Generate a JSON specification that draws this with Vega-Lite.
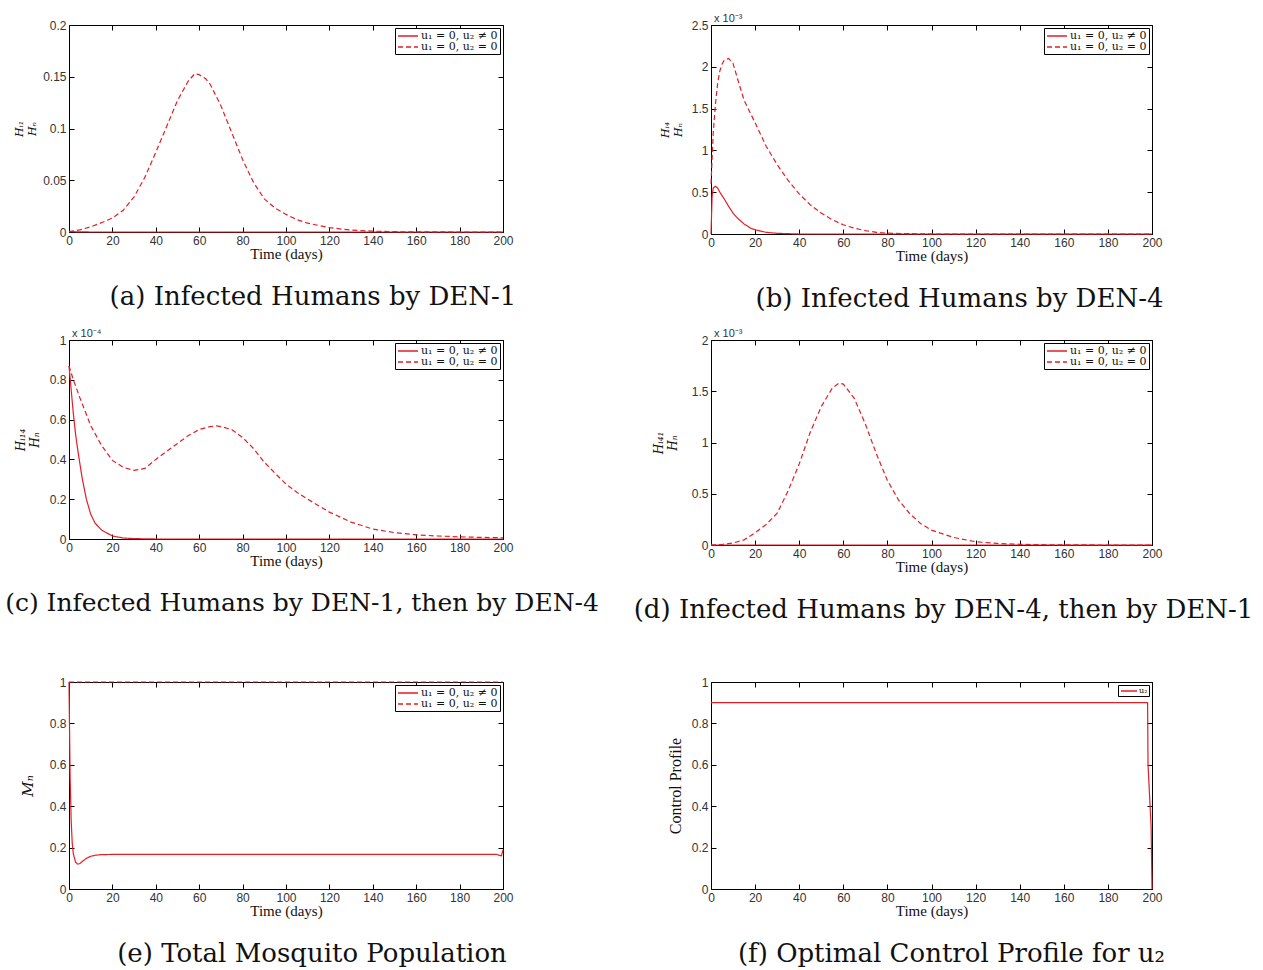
{
  "$schema": "https://vega.github.io/schema/vega-lite/v6.json",
  "background": "white",
  "padding": {"left": 4, "top": 12, "right": 0, "bottom": 0},
  "config": {
    "view": {"stroke": "#000", "strokeWidth": 1},
    "axis": {"domain": false, "grid": false, "ticks": true, "tickSize": -5, "tickColor": "#000", "tickWidth": 1, "labelFont": "Liberation Sans", "labelFontSize": 12, "labelColor": "#333", "labelPadding": 8, "titleFont": "Liberation Serif", "titleFontWeight": "normal", "titleColor": "#111", "titleFontSize": 15},
    "axisX": {"titlePadding": 0},
    "title": {"orient": "bottom", "font": "DejaVu Serif", "fontSize": 26, "fontWeight": "normal", "color": "#111", "anchor": "middle", "frame": "group", "offset": 23},
    "legend": {"orient": "top-right", "offset": 3, "padding": 2, "rowPadding": 0, "strokeColor": "#000", "fillColor": "#fff", "symbolType": "M-2,0H2", "symbolSize": 100, "symbolOffset": 5, "symbolStrokeWidth": 1.3, "symbolStrokeColor": "#e41e26", "symbolFillColor": "transparent", "labelFont": "DejaVu Serif", "labelFontSize": 11, "labelOffset": 7, "labelColor": "#111", "title": null}
  },
  "columns": 2,
  "align": "each",
  "bounds": "flush",
  "spacing": {"row": 0, "column": 208},
  "resolve": {"scale": {"strokeDash": "independent"}, "legend": {"strokeDash": "independent"}},
  "concat": [
    {
      "width": 434, "height": 207,
      "title": {"text": "(a) Infected Humans by DEN-1", "dx": 27},
      "data": {"values": [
        {"t": 0, "v": 0.0005, "s": "u₁ = 0, u₂ ≠ 0"}, {"t": 3, "v": 0.0002, "s": "u₁ = 0, u₂ ≠ 0"}, {"t": 10, "v": 0, "s": "u₁ = 0, u₂ ≠ 0"}, {"t": 60, "v": 0, "s": "u₁ = 0, u₂ ≠ 0"}, {"t": 120, "v": 0, "s": "u₁ = 0, u₂ ≠ 0"}, {"t": 200, "v": 0, "s": "u₁ = 0, u₂ ≠ 0"},
        {"t": 0, "v": 0.0005, "s": "u₁ = 0, u₂ = 0"}, {"t": 5, "v": 0.002, "s": "u₁ = 0, u₂ = 0"}, {"t": 10, "v": 0.005, "s": "u₁ = 0, u₂ = 0"}, {"t": 15, "v": 0.009, "s": "u₁ = 0, u₂ = 0"}, {"t": 20, "v": 0.0135, "s": "u₁ = 0, u₂ = 0"}, {"t": 25, "v": 0.021, "s": "u₁ = 0, u₂ = 0"}, {"t": 30, "v": 0.034, "s": "u₁ = 0, u₂ = 0"}, {"t": 35, "v": 0.053, "s": "u₁ = 0, u₂ = 0"}, {"t": 40, "v": 0.077, "s": "u₁ = 0, u₂ = 0"}, {"t": 45, "v": 0.102, "s": "u₁ = 0, u₂ = 0"}, {"t": 50, "v": 0.127, "s": "u₁ = 0, u₂ = 0"}, {"t": 55, "v": 0.146, "s": "u₁ = 0, u₂ = 0"}, {"t": 58, "v": 0.153, "s": "u₁ = 0, u₂ = 0"}, {"t": 60, "v": 0.152, "s": "u₁ = 0, u₂ = 0"}, {"t": 63, "v": 0.148, "s": "u₁ = 0, u₂ = 0"}, {"t": 65, "v": 0.143, "s": "u₁ = 0, u₂ = 0"}, {"t": 70, "v": 0.122, "s": "u₁ = 0, u₂ = 0"}, {"t": 75, "v": 0.096, "s": "u₁ = 0, u₂ = 0"}, {"t": 80, "v": 0.07, "s": "u₁ = 0, u₂ = 0"}, {"t": 85, "v": 0.048, "s": "u₁ = 0, u₂ = 0"}, {"t": 90, "v": 0.032, "s": "u₁ = 0, u₂ = 0"}, {"t": 95, "v": 0.023, "s": "u₁ = 0, u₂ = 0"}, {"t": 100, "v": 0.017, "s": "u₁ = 0, u₂ = 0"}, {"t": 105, "v": 0.012, "s": "u₁ = 0, u₂ = 0"}, {"t": 110, "v": 0.0085, "s": "u₁ = 0, u₂ = 0"}, {"t": 120, "v": 0.0042, "s": "u₁ = 0, u₂ = 0"}, {"t": 130, "v": 0.0018, "s": "u₁ = 0, u₂ = 0"}, {"t": 140, "v": 0.0008, "s": "u₁ = 0, u₂ = 0"}, {"t": 150, "v": 0.0003, "s": "u₁ = 0, u₂ = 0"}, {"t": 160, "v": 0.0001, "s": "u₁ = 0, u₂ = 0"}, {"t": 180, "v": 0, "s": "u₁ = 0, u₂ = 0"}, {"t": 200, "v": 0, "s": "u₁ = 0, u₂ = 0"}
      ]},
      "layer": [
        {
          "mark": {"type": "line", "color": "#e41e26", "strokeWidth": 1.2},
          "encoding": {
            "x": {"field": "t", "type": "quantitative", "scale": {"domain": [0, 200], "nice": false, "zero": false}, "axis": {"orient": "bottom", "values": [0, 20, 40, 60, 80, 100, 120, 140, 160, 180, 200], "title": "Time (days)", "labelFlush": false, "labelOverlap": false}},
            "y": {"field": "v", "type": "quantitative", "scale": {"domain": [0, 0.2], "nice": false}, "axis": {"orient": "left", "values": [0, 0.05, 0.1, 0.15, 0.2], "format": "~g", "labelOverlap": false, "title": ["Hᵢ₁", "Hₙ"], "titleFont": "DejaVu Serif", "titleFontStyle": "italic", "titleFontSize": 11, "titlePadding": 5}},
            "strokeDash": {"field": "s", "type": "nominal", "scale": {"domain": ["u₁ = 0, u₂ ≠ 0", "u₁ = 0, u₂ = 0"], "range": [[1, 0], [5, 3]]}, "legend": {}}
          }
        },
        {
          "mark": {"type": "line", "strokeOpacity": 0},
          "encoding": {
            "x": {"field": "t", "type": "quantitative", "scale": {"domain": [0, 200], "nice": false, "zero": false}, "axis": {"orient": "top", "values": [0, 20, 40, 60, 80, 100, 120, 140, 160, 180, 200], "labels": false, "title": null}},
            "y": {"field": "v", "type": "quantitative", "scale": {"domain": [0, 0.2], "nice": false}, "axis": {"orient": "right", "values": [0, 0.05, 0.1, 0.15, 0.2], "labels": false, "title": null}}
          }
        }
      ],
      "resolve": {"axis": {"x": "independent", "y": "independent"}}
    },
    {
      "width": 441, "height": 209,
      "title": {"text": "(b) Infected Humans by DEN-4", "dx": 28},
      "data": {"values": [
        {"t": 0, "v": 0, "s": "u₁ = 0, u₂ ≠ 0"}, {"t": 0.5, "v": 0.00045, "s": "u₁ = 0, u₂ ≠ 0"}, {"t": 1, "v": 0.00055, "s": "u₁ = 0, u₂ ≠ 0"}, {"t": 2, "v": 0.00057, "s": "u₁ = 0, u₂ ≠ 0"}, {"t": 3, "v": 0.00055, "s": "u₁ = 0, u₂ ≠ 0"}, {"t": 4, "v": 0.0005, "s": "u₁ = 0, u₂ ≠ 0"}, {"t": 6, "v": 0.00042, "s": "u₁ = 0, u₂ ≠ 0"}, {"t": 8, "v": 0.00033, "s": "u₁ = 0, u₂ ≠ 0"}, {"t": 10, "v": 0.00025, "s": "u₁ = 0, u₂ ≠ 0"}, {"t": 12, "v": 0.00019, "s": "u₁ = 0, u₂ ≠ 0"}, {"t": 15, "v": 0.00012, "s": "u₁ = 0, u₂ ≠ 0"}, {"t": 18, "v": 0.00007, "s": "u₁ = 0, u₂ ≠ 0"}, {"t": 20, "v": 0.00005, "s": "u₁ = 0, u₂ ≠ 0"}, {"t": 25, "v": 0.00002, "s": "u₁ = 0, u₂ ≠ 0"}, {"t": 30, "v": 0.000008, "s": "u₁ = 0, u₂ ≠ 0"}, {"t": 40, "v": 0, "s": "u₁ = 0, u₂ ≠ 0"}, {"t": 100, "v": 0, "s": "u₁ = 0, u₂ ≠ 0"}, {"t": 200, "v": 0, "s": "u₁ = 0, u₂ ≠ 0"},
        {"t": 0, "v": 0.0006, "s": "u₁ = 0, u₂ = 0"}, {"t": 0.5, "v": 0.0009, "s": "u₁ = 0, u₂ = 0"}, {"t": 1, "v": 0.0012, "s": "u₁ = 0, u₂ = 0"}, {"t": 2, "v": 0.00155, "s": "u₁ = 0, u₂ = 0"}, {"t": 3, "v": 0.0018, "s": "u₁ = 0, u₂ = 0"}, {"t": 4, "v": 0.00195, "s": "u₁ = 0, u₂ = 0"}, {"t": 5, "v": 0.00203, "s": "u₁ = 0, u₂ = 0"}, {"t": 6, "v": 0.00208, "s": "u₁ = 0, u₂ = 0"}, {"t": 8, "v": 0.0021, "s": "u₁ = 0, u₂ = 0"}, {"t": 10, "v": 0.00204, "s": "u₁ = 0, u₂ = 0"}, {"t": 12, "v": 0.00186, "s": "u₁ = 0, u₂ = 0"}, {"t": 15, "v": 0.0016, "s": "u₁ = 0, u₂ = 0"}, {"t": 20, "v": 0.00133, "s": "u₁ = 0, u₂ = 0"}, {"t": 25, "v": 0.00105, "s": "u₁ = 0, u₂ = 0"}, {"t": 30, "v": 0.00083, "s": "u₁ = 0, u₂ = 0"}, {"t": 35, "v": 0.00064, "s": "u₁ = 0, u₂ = 0"}, {"t": 40, "v": 0.00048, "s": "u₁ = 0, u₂ = 0"}, {"t": 45, "v": 0.00035, "s": "u₁ = 0, u₂ = 0"}, {"t": 50, "v": 0.00025, "s": "u₁ = 0, u₂ = 0"}, {"t": 55, "v": 0.00017, "s": "u₁ = 0, u₂ = 0"}, {"t": 60, "v": 0.00011, "s": "u₁ = 0, u₂ = 0"}, {"t": 65, "v": 0.00007, "s": "u₁ = 0, u₂ = 0"}, {"t": 70, "v": 0.00004, "s": "u₁ = 0, u₂ = 0"}, {"t": 75, "v": 0.00002, "s": "u₁ = 0, u₂ = 0"}, {"t": 80, "v": 0.00001, "s": "u₁ = 0, u₂ = 0"}, {"t": 90, "v": 0.000004, "s": "u₁ = 0, u₂ = 0"}, {"t": 100, "v": 0, "s": "u₁ = 0, u₂ = 0"}, {"t": 150, "v": 0, "s": "u₁ = 0, u₂ = 0"}, {"t": 200, "v": 0, "s": "u₁ = 0, u₂ = 0"}
      ]},
      "layer": [
        {
          "mark": {"type": "line", "color": "#e41e26", "strokeWidth": 1.2},
          "encoding": {
            "x": {"field": "t", "type": "quantitative", "scale": {"domain": [0, 200], "nice": false, "zero": false}, "axis": {"orient": "bottom", "values": [0, 20, 40, 60, 80, 100, 120, 140, 160, 180, 200], "title": "Time (days)", "labelFlush": false, "labelOverlap": false}},
            "y": {"field": "v", "type": "quantitative", "scale": {"domain": [0, 0.0025], "nice": false}, "axis": {"orient": "left", "values": [0, 0.0005, 0.001, 0.0015, 0.002, 0.0025], "labelExpr": "format(datum.value * 1000, '~g')", "labelOverlap": false, "title": ["Hᵢ₄", "Hₙ"], "titleFont": "DejaVu Serif", "titleFontStyle": "italic", "titleFontSize": 11, "titlePadding": 8}},
            "strokeDash": {"field": "s", "type": "nominal", "scale": {"domain": ["u₁ = 0, u₂ ≠ 0", "u₁ = 0, u₂ = 0"], "range": [[1, 0], [5, 3]]}, "legend": {}}
          }
        },
        {
          "mark": {"type": "line", "strokeOpacity": 0},
          "encoding": {
            "x": {"field": "t", "type": "quantitative", "scale": {"domain": [0, 200], "nice": false, "zero": false}, "axis": {"orient": "top", "values": [0, 20, 40, 60, 80, 100, 120, 140, 160, 180, 200], "labels": false, "title": null}},
            "y": {"field": "v", "type": "quantitative", "scale": {"domain": [0, 0.0025], "nice": false}, "axis": {"orient": "right", "values": [0, 0.0005, 0.001, 0.0015, 0.002, 0.0025], "labels": false, "title": null}}
          }
        },
        {
          "data": {"values": [{"label": "x 10⁻³"}]},
          "mark": {"type": "text", "align": "left", "baseline": "bottom", "dx": 3, "dy": -1, "font": "Liberation Sans", "fontSize": 11, "color": "#333"},
          "encoding": {
            "x": {"datum": 0, "type": "quantitative", "scale": {"domain": [0, 200], "nice": false, "zero": false}, "axis": null},
            "y": {"datum": 0.0025, "type": "quantitative", "scale": {"domain": [0, 0.0025], "nice": false}, "axis": null},
            "text": {"field": "label"}
          }
        }
      ],
      "resolve": {"axis": {"x": "independent", "y": "independent"}}
    },
    {"width": 1, "height": 106, "view": {"stroke": null}, "data": {"values": []}, "mark": {"type": "point", "opacity": 0}, "encoding": {}},
    {"width": 1, "height": 106, "view": {"stroke": null}, "data": {"values": []}, "mark": {"type": "point", "opacity": 0}, "encoding": {}},
    {
      "width": 434, "height": 199,
      "title": {"text": "(c) Infected Humans by DEN-1, then by DEN-4", "dx": 16, "fontSize": 25},
      "data": {"values": [
        {"t": 0, "v": 0.000087, "s": "u₁ = 0, u₂ ≠ 0"}, {"t": 1, "v": 0.000075, "s": "u₁ = 0, u₂ ≠ 0"}, {"t": 2, "v": 0.000063, "s": "u₁ = 0, u₂ ≠ 0"}, {"t": 3, "v": 0.000053, "s": "u₁ = 0, u₂ ≠ 0"}, {"t": 4, "v": 0.000045, "s": "u₁ = 0, u₂ ≠ 0"}, {"t": 5, "v": 0.000038, "s": "u₁ = 0, u₂ ≠ 0"}, {"t": 6, "v": 0.000031, "s": "u₁ = 0, u₂ ≠ 0"}, {"t": 8, "v": 0.00002, "s": "u₁ = 0, u₂ ≠ 0"}, {"t": 10, "v": 0.0000125, "s": "u₁ = 0, u₂ ≠ 0"}, {"t": 12, "v": 0.000008, "s": "u₁ = 0, u₂ ≠ 0"}, {"t": 15, "v": 0.0000045, "s": "u₁ = 0, u₂ ≠ 0"}, {"t": 20, "v": 0.0000015, "s": "u₁ = 0, u₂ ≠ 0"}, {"t": 25, "v": 0.0000005, "s": "u₁ = 0, u₂ ≠ 0"}, {"t": 30, "v": 0.0000002, "s": "u₁ = 0, u₂ ≠ 0"}, {"t": 40, "v": 0, "s": "u₁ = 0, u₂ ≠ 0"}, {"t": 100, "v": 0, "s": "u₁ = 0, u₂ ≠ 0"}, {"t": 200, "v": 0, "s": "u₁ = 0, u₂ ≠ 0"},
        {"t": 0, "v": 0.000087, "s": "u₁ = 0, u₂ = 0"}, {"t": 2, "v": 0.00008, "s": "u₁ = 0, u₂ = 0"}, {"t": 5, "v": 0.000071, "s": "u₁ = 0, u₂ = 0"}, {"t": 10, "v": 0.000057, "s": "u₁ = 0, u₂ = 0"}, {"t": 15, "v": 0.000047, "s": "u₁ = 0, u₂ = 0"}, {"t": 20, "v": 0.0000395, "s": "u₁ = 0, u₂ = 0"}, {"t": 25, "v": 0.000036, "s": "u₁ = 0, u₂ = 0"}, {"t": 30, "v": 0.0000345, "s": "u₁ = 0, u₂ = 0"}, {"t": 35, "v": 0.0000355, "s": "u₁ = 0, u₂ = 0"}, {"t": 40, "v": 0.00004, "s": "u₁ = 0, u₂ = 0"}, {"t": 45, "v": 0.000044, "s": "u₁ = 0, u₂ = 0"}, {"t": 50, "v": 0.000048, "s": "u₁ = 0, u₂ = 0"}, {"t": 55, "v": 0.000052, "s": "u₁ = 0, u₂ = 0"}, {"t": 60, "v": 0.000055, "s": "u₁ = 0, u₂ = 0"}, {"t": 65, "v": 0.0000565, "s": "u₁ = 0, u₂ = 0"}, {"t": 68, "v": 0.0000568, "s": "u₁ = 0, u₂ = 0"}, {"t": 70, "v": 0.0000565, "s": "u₁ = 0, u₂ = 0"}, {"t": 75, "v": 0.000055, "s": "u₁ = 0, u₂ = 0"}, {"t": 80, "v": 0.000051, "s": "u₁ = 0, u₂ = 0"}, {"t": 85, "v": 0.0000455, "s": "u₁ = 0, u₂ = 0"}, {"t": 90, "v": 0.0000386, "s": "u₁ = 0, u₂ = 0"}, {"t": 95, "v": 0.000033, "s": "u₁ = 0, u₂ = 0"}, {"t": 100, "v": 0.0000276, "s": "u₁ = 0, u₂ = 0"}, {"t": 105, "v": 0.0000235, "s": "u₁ = 0, u₂ = 0"}, {"t": 110, "v": 0.00002, "s": "u₁ = 0, u₂ = 0"}, {"t": 120, "v": 0.0000135, "s": "u₁ = 0, u₂ = 0"}, {"t": 130, "v": 0.0000085, "s": "u₁ = 0, u₂ = 0"}, {"t": 140, "v": 0.000005, "s": "u₁ = 0, u₂ = 0"}, {"t": 150, "v": 0.0000032, "s": "u₁ = 0, u₂ = 0"}, {"t": 160, "v": 0.0000021, "s": "u₁ = 0, u₂ = 0"}, {"t": 170, "v": 0.0000015, "s": "u₁ = 0, u₂ = 0"}, {"t": 180, "v": 0.0000011, "s": "u₁ = 0, u₂ = 0"}, {"t": 190, "v": 0.0000008, "s": "u₁ = 0, u₂ = 0"}, {"t": 200, "v": 0.0000006, "s": "u₁ = 0, u₂ = 0"}
      ]},
      "layer": [
        {
          "mark": {"type": "line", "color": "#e41e26", "strokeWidth": 1.2},
          "encoding": {
            "x": {"field": "t", "type": "quantitative", "scale": {"domain": [0, 200], "nice": false, "zero": false}, "axis": {"orient": "bottom", "values": [0, 20, 40, 60, 80, 100, 120, 140, 160, 180, 200], "title": "Time (days)", "labelFlush": false, "labelOverlap": false}},
            "y": {"field": "v", "type": "quantitative", "scale": {"domain": [0, 0.0001], "nice": false}, "axis": {"orient": "left", "values": [0, 0.00002, 0.00004, 0.00006, 0.00008, 0.0001], "labelExpr": "format(datum.value * 10000, '~g')", "labelOverlap": false, "title": ["Hᵢ₁₄", "Hₙ"], "titleFont": "DejaVu Serif", "titleFontStyle": "italic", "titleFontSize": 12, "titlePadding": 8}},
            "strokeDash": {"field": "s", "type": "nominal", "scale": {"domain": ["u₁ = 0, u₂ ≠ 0", "u₁ = 0, u₂ = 0"], "range": [[1, 0], [5, 3]]}, "legend": {}}
          }
        },
        {
          "mark": {"type": "line", "strokeOpacity": 0},
          "encoding": {
            "x": {"field": "t", "type": "quantitative", "scale": {"domain": [0, 200], "nice": false, "zero": false}, "axis": {"orient": "top", "values": [0, 20, 40, 60, 80, 100, 120, 140, 160, 180, 200], "labels": false, "title": null}},
            "y": {"field": "v", "type": "quantitative", "scale": {"domain": [0, 0.0001], "nice": false}, "axis": {"orient": "right", "values": [0, 0.00002, 0.00004, 0.00006, 0.00008, 0.0001], "labels": false, "title": null}}
          }
        },
        {
          "data": {"values": [{"label": "x 10⁻⁴"}]},
          "mark": {"type": "text", "align": "left", "baseline": "bottom", "dx": 3, "dy": -1, "font": "Liberation Sans", "fontSize": 11, "color": "#333"},
          "encoding": {
            "x": {"datum": 0, "type": "quantitative", "scale": {"domain": [0, 200], "nice": false, "zero": false}, "axis": null},
            "y": {"datum": 0.0001, "type": "quantitative", "scale": {"domain": [0, 0.0001], "nice": false}, "axis": null},
            "text": {"field": "label"}
          }
        }
      ],
      "resolve": {"axis": {"x": "independent", "y": "independent"}}
    },
    {
      "width": 441, "height": 205,
      "title": {"text": "(d) Infected Humans by DEN-4, then by DEN-1", "dx": 12, "fontSize": 26},
      "data": {"values": [
        {"t": 0, "v": 0, "s": "u₁ = 0, u₂ ≠ 0"}, {"t": 50, "v": 0, "s": "u₁ = 0, u₂ ≠ 0"}, {"t": 100, "v": 0, "s": "u₁ = 0, u₂ ≠ 0"}, {"t": 150, "v": 0, "s": "u₁ = 0, u₂ ≠ 0"}, {"t": 200, "v": 0, "s": "u₁ = 0, u₂ ≠ 0"},
        {"t": 0, "v": 0, "s": "u₁ = 0, u₂ = 0"}, {"t": 5, "v": 0.000005, "s": "u₁ = 0, u₂ = 0"}, {"t": 10, "v": 0.00002, "s": "u₁ = 0, u₂ = 0"}, {"t": 15, "v": 0.00005, "s": "u₁ = 0, u₂ = 0"}, {"t": 20, "v": 0.00012, "s": "u₁ = 0, u₂ = 0"}, {"t": 25, "v": 0.0002, "s": "u₁ = 0, u₂ = 0"}, {"t": 30, "v": 0.00031, "s": "u₁ = 0, u₂ = 0"}, {"t": 35, "v": 0.00053, "s": "u₁ = 0, u₂ = 0"}, {"t": 40, "v": 0.00079, "s": "u₁ = 0, u₂ = 0"}, {"t": 45, "v": 0.0011, "s": "u₁ = 0, u₂ = 0"}, {"t": 50, "v": 0.00135, "s": "u₁ = 0, u₂ = 0"}, {"t": 55, "v": 0.00153, "s": "u₁ = 0, u₂ = 0"}, {"t": 58, "v": 0.00158, "s": "u₁ = 0, u₂ = 0"}, {"t": 60, "v": 0.00157, "s": "u₁ = 0, u₂ = 0"}, {"t": 65, "v": 0.00143, "s": "u₁ = 0, u₂ = 0"}, {"t": 70, "v": 0.00118, "s": "u₁ = 0, u₂ = 0"}, {"t": 75, "v": 0.00089, "s": "u₁ = 0, u₂ = 0"}, {"t": 80, "v": 0.00063, "s": "u₁ = 0, u₂ = 0"}, {"t": 85, "v": 0.00044, "s": "u₁ = 0, u₂ = 0"}, {"t": 90, "v": 0.00031, "s": "u₁ = 0, u₂ = 0"}, {"t": 95, "v": 0.00021, "s": "u₁ = 0, u₂ = 0"}, {"t": 100, "v": 0.000145, "s": "u₁ = 0, u₂ = 0"}, {"t": 110, "v": 0.000074, "s": "u₁ = 0, u₂ = 0"}, {"t": 120, "v": 0.000032, "s": "u₁ = 0, u₂ = 0"}, {"t": 130, "v": 0.000015, "s": "u₁ = 0, u₂ = 0"}, {"t": 140, "v": 0.000007, "s": "u₁ = 0, u₂ = 0"}, {"t": 150, "v": 0.000003, "s": "u₁ = 0, u₂ = 0"}, {"t": 160, "v": 0.000001, "s": "u₁ = 0, u₂ = 0"}, {"t": 180, "v": 0, "s": "u₁ = 0, u₂ = 0"}, {"t": 200, "v": 0, "s": "u₁ = 0, u₂ = 0"}
      ]},
      "layer": [
        {
          "mark": {"type": "line", "color": "#e41e26", "strokeWidth": 1.2},
          "encoding": {
            "x": {"field": "t", "type": "quantitative", "scale": {"domain": [0, 200], "nice": false, "zero": false}, "axis": {"orient": "bottom", "values": [0, 20, 40, 60, 80, 100, 120, 140, 160, 180, 200], "title": "Time (days)", "labelFlush": false, "labelOverlap": false}},
            "y": {"field": "v", "type": "quantitative", "scale": {"domain": [0, 0.002], "nice": false}, "axis": {"orient": "left", "values": [0, 0.0005, 0.001, 0.0015, 0.002], "labelExpr": "format(datum.value * 1000, '~g')", "labelOverlap": false, "title": ["Hᵢ₄₁", "Hₙ"], "titleFont": "DejaVu Serif", "titleFontStyle": "italic", "titleFontSize": 12, "titlePadding": 12}},
            "strokeDash": {"field": "s", "type": "nominal", "scale": {"domain": ["u₁ = 0, u₂ ≠ 0", "u₁ = 0, u₂ = 0"], "range": [[1, 0], [5, 3]]}, "legend": {}}
          }
        },
        {
          "mark": {"type": "line", "strokeOpacity": 0},
          "encoding": {
            "x": {"field": "t", "type": "quantitative", "scale": {"domain": [0, 200], "nice": false, "zero": false}, "axis": {"orient": "top", "values": [0, 20, 40, 60, 80, 100, 120, 140, 160, 180, 200], "labels": false, "title": null}},
            "y": {"field": "v", "type": "quantitative", "scale": {"domain": [0, 0.002], "nice": false}, "axis": {"orient": "right", "values": [0, 0.0005, 0.001, 0.0015, 0.002], "labels": false, "title": null}}
          }
        },
        {
          "data": {"values": [{"label": "x 10⁻³"}]},
          "mark": {"type": "text", "align": "left", "baseline": "bottom", "dx": 3, "dy": -1, "font": "Liberation Sans", "fontSize": 11, "color": "#333"},
          "encoding": {
            "x": {"datum": 0, "type": "quantitative", "scale": {"domain": [0, 200], "nice": false, "zero": false}, "axis": null},
            "y": {"datum": 0.002, "type": "quantitative", "scale": {"domain": [0, 0.002], "nice": false}, "axis": null},
            "text": {"field": "label"}
          }
        }
      ],
      "resolve": {"axis": {"x": "independent", "y": "independent"}}
    },
    {"width": 1, "height": 137, "view": {"stroke": null}, "data": {"values": []}, "mark": {"type": "point", "opacity": 0}, "encoding": {}},
    {"width": 1, "height": 137, "view": {"stroke": null}, "data": {"values": []}, "mark": {"type": "point", "opacity": 0}, "encoding": {}},
    {
      "width": 434, "height": 207,
      "title": {"text": "(e) Total Mosquito Population", "dx": 26},
      "data": {"values": [
        {"t": 0, "v": 1.0, "s": "u₁ = 0, u₂ ≠ 0"}, {"t": 0.5, "v": 0.55, "s": "u₁ = 0, u₂ ≠ 0"}, {"t": 1, "v": 0.33, "s": "u₁ = 0, u₂ ≠ 0"}, {"t": 1.5, "v": 0.22, "s": "u₁ = 0, u₂ ≠ 0"}, {"t": 2, "v": 0.17, "s": "u₁ = 0, u₂ ≠ 0"}, {"t": 3, "v": 0.13, "s": "u₁ = 0, u₂ ≠ 0"}, {"t": 4, "v": 0.12, "s": "u₁ = 0, u₂ ≠ 0"}, {"t": 5, "v": 0.123, "s": "u₁ = 0, u₂ ≠ 0"}, {"t": 6, "v": 0.132, "s": "u₁ = 0, u₂ ≠ 0"}, {"t": 8, "v": 0.148, "s": "u₁ = 0, u₂ ≠ 0"}, {"t": 10, "v": 0.158, "s": "u₁ = 0, u₂ ≠ 0"}, {"t": 12, "v": 0.163, "s": "u₁ = 0, u₂ ≠ 0"}, {"t": 15, "v": 0.166, "s": "u₁ = 0, u₂ ≠ 0"}, {"t": 20, "v": 0.167, "s": "u₁ = 0, u₂ ≠ 0"}, {"t": 50, "v": 0.167, "s": "u₁ = 0, u₂ ≠ 0"}, {"t": 100, "v": 0.167, "s": "u₁ = 0, u₂ ≠ 0"}, {"t": 150, "v": 0.167, "s": "u₁ = 0, u₂ ≠ 0"}, {"t": 197, "v": 0.167, "s": "u₁ = 0, u₂ ≠ 0"}, {"t": 198.5, "v": 0.162, "s": "u₁ = 0, u₂ ≠ 0"}, {"t": 199.3, "v": 0.16, "s": "u₁ = 0, u₂ ≠ 0"}, {"t": 200, "v": 0.19, "s": "u₁ = 0, u₂ ≠ 0"},
        {"t": 0, "v": 1.0, "s": "u₁ = 0, u₂ = 0"}, {"t": 50, "v": 1.0, "s": "u₁ = 0, u₂ = 0"}, {"t": 100, "v": 1.0, "s": "u₁ = 0, u₂ = 0"}, {"t": 150, "v": 1.0, "s": "u₁ = 0, u₂ = 0"}, {"t": 200, "v": 1.0, "s": "u₁ = 0, u₂ = 0"}
      ]},
      "layer": [
        {
          "mark": {"type": "line", "color": "#e41e26", "strokeWidth": 1.2},
          "encoding": {
            "x": {"field": "t", "type": "quantitative", "scale": {"domain": [0, 200], "nice": false, "zero": false}, "axis": {"orient": "bottom", "values": [0, 20, 40, 60, 80, 100, 120, 140, 160, 180, 200], "title": "Time (days)", "labelFlush": false, "labelOverlap": false}},
            "y": {"field": "v", "type": "quantitative", "scale": {"domain": [0, 1], "nice": false}, "axis": {"orient": "left", "values": [0, 0.2, 0.4, 0.6, 0.8, 1], "format": "~g", "labelOverlap": false, "title": "Mₙ", "titleFont": "DejaVu Serif", "titleFontStyle": "italic", "titleFontSize": 15, "titlePadding": 14}},
            "strokeDash": {"field": "s", "type": "nominal", "scale": {"domain": ["u₁ = 0, u₂ ≠ 0", "u₁ = 0, u₂ = 0"], "range": [[1, 0], [5, 3]]}, "legend": {}}
          }
        },
        {
          "mark": {"type": "line", "strokeOpacity": 0},
          "encoding": {
            "x": {"field": "t", "type": "quantitative", "scale": {"domain": [0, 200], "nice": false, "zero": false}, "axis": {"orient": "top", "values": [0, 20, 40, 60, 80, 100, 120, 140, 160, 180, 200], "labels": false, "title": null}},
            "y": {"field": "v", "type": "quantitative", "scale": {"domain": [0, 1], "nice": false}, "axis": {"orient": "right", "values": [0, 0.2, 0.4, 0.6, 0.8, 1], "labels": false, "title": null}}
          }
        }
      ],
      "resolve": {"axis": {"x": "independent", "y": "independent"}}
    },
    {
      "width": 441, "height": 207,
      "title": {"text": "(f) Optimal Control Profile for u₂", "dx": 20},
      "data": {"values": [
        {"t": 0, "v": 0.9, "s": "u₂"}, {"t": 50, "v": 0.9, "s": "u₂"}, {"t": 100, "v": 0.9, "s": "u₂"}, {"t": 150, "v": 0.9, "s": "u₂"}, {"t": 198, "v": 0.9, "s": "u₂"}, {"t": 198.2, "v": 0.6, "s": "u₂"}, {"t": 199.6, "v": 0.3, "s": "u₂"}, {"t": 200, "v": 0, "s": "u₂"}
      ]},
      "layer": [
        {
          "mark": {"type": "line", "color": "#e41e26", "strokeWidth": 1.2},
          "encoding": {
            "x": {"field": "t", "type": "quantitative", "scale": {"domain": [0, 200], "nice": false, "zero": false}, "axis": {"orient": "bottom", "values": [0, 20, 40, 60, 80, 100, 120, 140, 160, 180, 200], "title": "Time (days)", "labelFlush": false, "labelOverlap": false}},
            "y": {"field": "v", "type": "quantitative", "scale": {"domain": [0, 1], "nice": false}, "axis": {"orient": "left", "values": [0, 0.2, 0.4, 0.6, 0.8, 1], "format": "~g", "labelOverlap": false, "title": "Control Profile", "titleFontSize": 16, "titlePadding": 8}},
            "strokeDash": {"field": "s", "type": "nominal", "scale": {"domain": ["u₂"], "range": [[1, 0]]}, "legend": {"labelFontSize": 8, "symbolSize": 64, "labelOffset": 5, "padding": 1}}
          }
        },
        {
          "mark": {"type": "line", "strokeOpacity": 0},
          "encoding": {
            "x": {"field": "t", "type": "quantitative", "scale": {"domain": [0, 200], "nice": false, "zero": false}, "axis": {"orient": "top", "values": [0, 20, 40, 60, 80, 100, 120, 140, 160, 180, 200], "labels": false, "title": null}},
            "y": {"field": "v", "type": "quantitative", "scale": {"domain": [0, 1], "nice": false}, "axis": {"orient": "right", "values": [0, 0.2, 0.4, 0.6, 0.8, 1], "labels": false, "title": null}}
          }
        }
      ],
      "resolve": {"axis": {"x": "independent", "y": "independent"}}
    }
  ]
}
